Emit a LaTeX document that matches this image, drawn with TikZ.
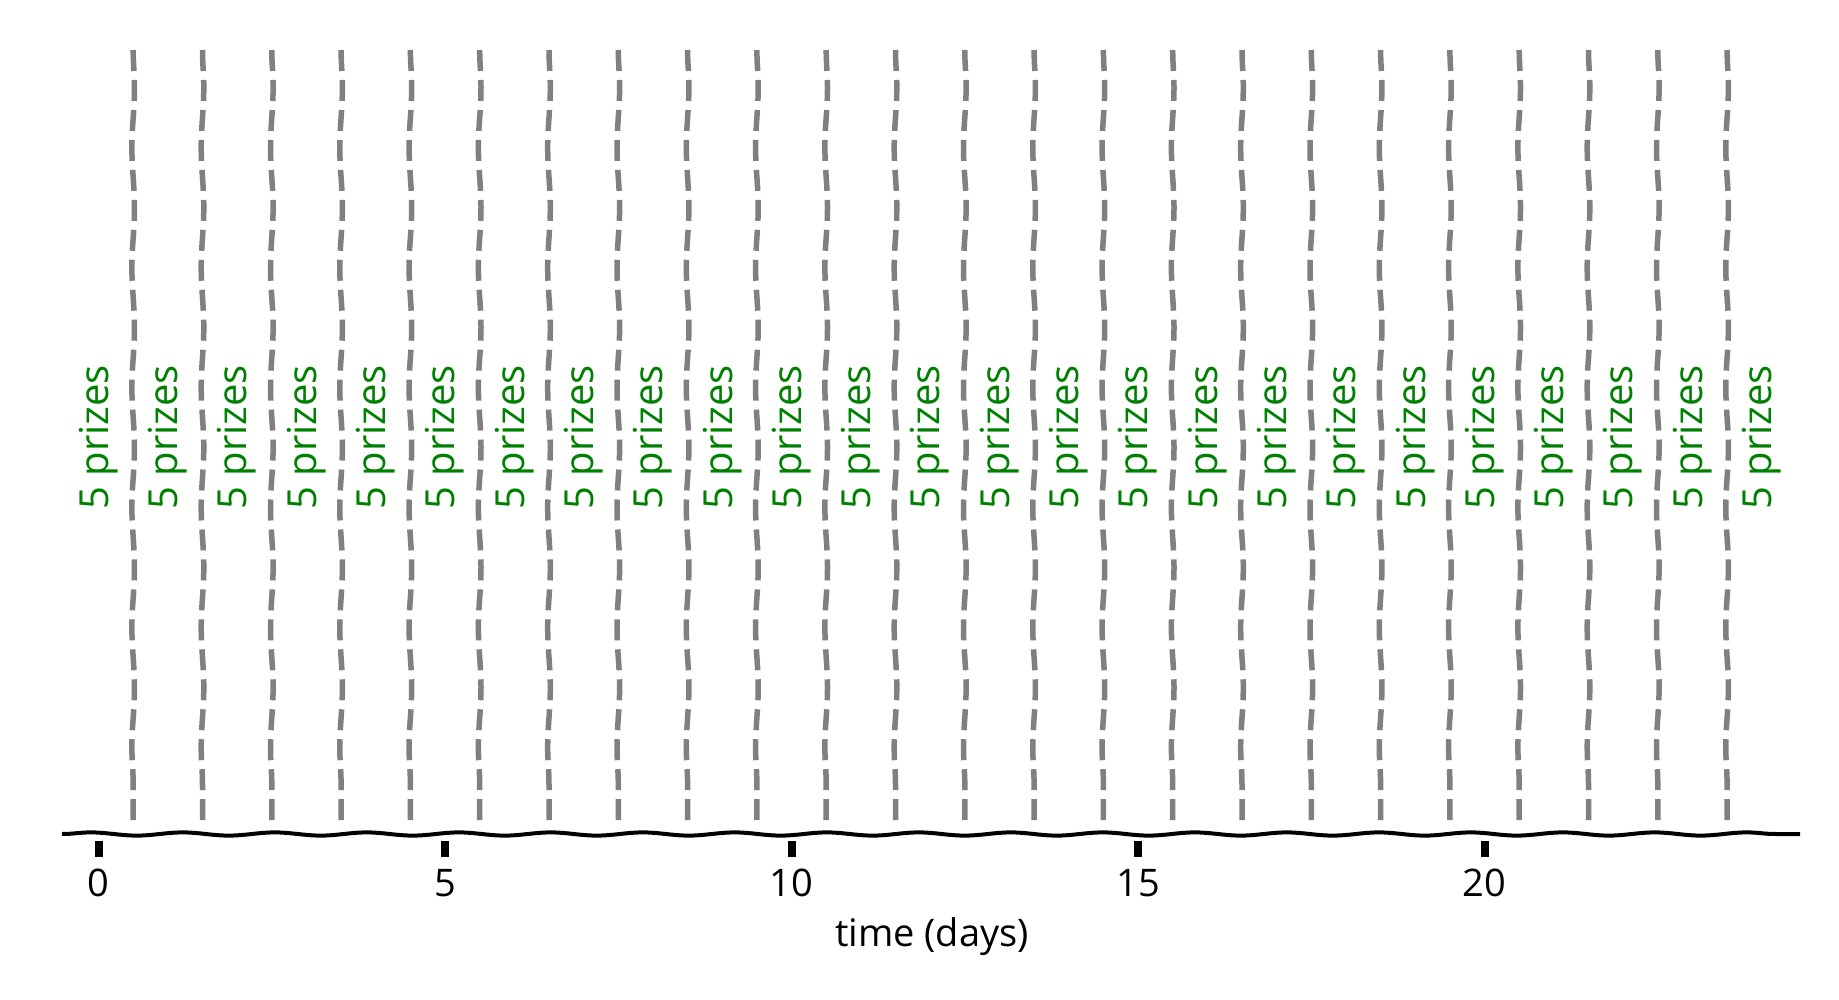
\documentclass[tikz,border=0pt]{standalone}
\usepackage{fontspec}
\setmainfont{Open Sans}
\usetikzlibrary{decorations.pathmorphing}
\definecolor{prizegreen}{RGB}{0,128,0}
\definecolor{divgray}{RGB}{128,128,128}
\begin{document}
\begin{tikzpicture}[x=1pt,y=-1pt,
  axisline/.style={decorate, decoration={snake, amplitude=1.6pt, segment length=92pt}, line width=4pt, black},
  divider/.style={decorate, decoration={snake, amplitude=1.3pt, segment length=120pt}, draw=divgray, line width=5.5pt, dash pattern=on 21pt off 9pt},
  ticklbl/.style={font=\fontsize{38}{40}\selectfont, inner sep=0pt},
  prize/.style={rotate=90, text=prizegreen, font=\fontsize{40}{44}\selectfont, inner sep=0pt},
  tickmark/.style={line width=8pt, black}]
\useasboundingbox (0,0) rectangle (1839,1000);
\fill[white] (0,0) rectangle (1839,1000);
% dividers
\foreach \i in {0,...,23} {
  \coordinate (dt\i) at ({133.2+69.3*\i},50);
  \coordinate (db\i) at ({133.2+69.3*\i},828);
  \draw[divider] (dt\i) -- (db\i);
}
% axis
\coordinate (axL) at (62,834);
\coordinate (axR) at (1800,834);
\draw[axisline] (axL) -- (axR);
% ticks
\foreach \d in {0,5,10,15,20} {
  \coordinate (tt\d) at ({98.5+69.3*\d},841);
  \coordinate (tb\d) at ({98.5+69.3*\d},857);
  \draw[tickmark] (tt\d) -- (tb\d);
  \node[ticklbl] (tl\d) at ({98.5+69.3*\d},883) {\d};
}
% prize labels
\foreach \i in {0,...,24} {
  \node[prize] (p\i) at ({98.5+69.3*\i},437.5) {5 prizes};
}
\node[ticklbl] (xl) at (932,937) {time (days)};
\end{tikzpicture}
\end{document}
